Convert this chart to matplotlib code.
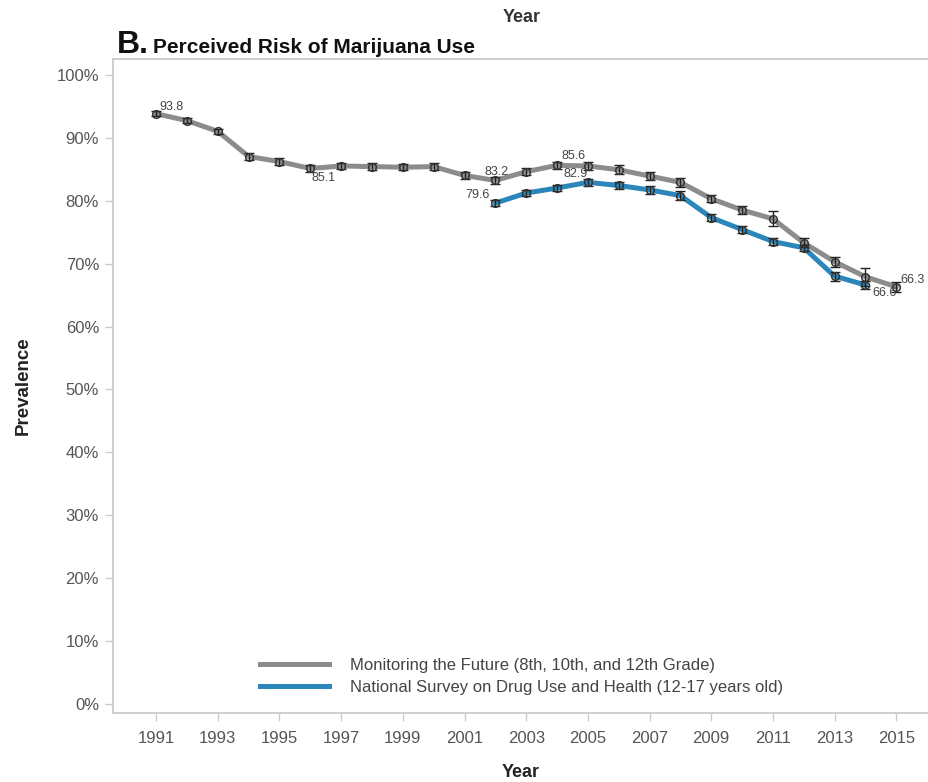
import matplotlib
matplotlib.use("Agg")
import matplotlib.pyplot as plt
import numpy as np

plt.rcParams['font.family'] = ['Liberation Sans', 'DejaVu Sans']

# Monitoring the Future, 8th/10th/12th grade combined
mtf_years = list(range(1991, 2016))
mtf_vals = [93.8, 92.7, 91.0, 87.0, 86.2, 85.1, 85.5, 85.4, 85.3, 85.4, 84.0, 83.2,
            84.6, 85.6, 85.5, 84.9, 83.9, 82.9, 80.3, 78.5, 77.1, 73.3, 70.3, 67.9, 66.3]
mtf_err = [0.4, 0.4, 0.4, 0.5, 0.5, 0.5, 0.5, 0.5, 0.5, 0.5, 0.5, 0.6,
           0.5, 0.6, 0.6, 0.7, 0.7, 0.7, 0.6, 0.7, 1.2, 0.7, 0.8, 1.4, 0.8]

# National Survey on Drug Use and Health, ages 12-17
nsduh_years = list(range(2002, 2015))
nsduh_vals = [79.6, 81.2, 82.0, 82.9, 82.4, 81.7, 80.8, 77.3, 75.4, 73.5, 72.5, 68.0, 66.6]
nsduh_err = [0.5, 0.5, 0.5, 0.6, 0.6, 0.6, 0.7, 0.6, 0.6, 0.5, 0.5, 0.7, 0.7]

x_ticks = list(range(1991, 2016, 2))
y_ticks = list(range(0, 101, 10))

legend_labels = ["Monitoring the Future (8th, 10th, and 12th Grade)",
                 "National Survey on Drug Use and Health (12-17 years old)"]

# point labels: (series, year, text, offset in points, ha)
point_labels = [
    ("mtf", 1991, "93.8", (2, 5), "left"),
    ("mtf", 1996, "85.1", (1, -7), "left"),
    ("mtf", 2002, "83.2", (1, 6), "center"),
    ("mtf", 2004, "85.6", (3, 7), "left"),
    ("mtf", 2015, "66.3", (3, 5), "left"),
    ("nsduh", 2002, "79.6", (-4, 6), "right"),
    ("nsduh", 2005, "82.9", (0, 6), "right"),
    ("nsduh", 2014, "66.6", (5, -6), "left"),
]

gray = "#8c8c8c"
blue = "#2b87ba"
axis_gray = "#c9cdd0"
tick_text = "#555555"

fig = plt.figure(figsize=(9.29, 7.82), dpi=100)
ax = fig.add_axes([0.1216, 0.0882, 0.878, 0.8364])

ax.plot(mtf_years, mtf_vals, color=gray, lw=3.6, zorder=2, label=legend_labels[0])
ax.plot(nsduh_years, nsduh_vals, color=blue, lw=3.6, zorder=2, label=legend_labels[1])

for yrs, vals, err in [(mtf_years, mtf_vals, mtf_err), (nsduh_years, nsduh_vals, nsduh_err)]:
    ax.errorbar(yrs, vals, yerr=err, fmt='none', ecolor='#222222', elinewidth=1.0,
                capsize=3.5, capthick=1.0, zorder=3)
    ax.plot(yrs, vals, 'o', ms=5.5, mfc='none', mec='#333333', mew=1.1, zorder=4)

series = {"mtf": (mtf_years, mtf_vals), "nsduh": (nsduh_years, nsduh_vals)}
for key, yr, txt, off, ha in point_labels:
    yrs, vals = series[key]
    ax.annotate(txt, (yr, vals[yrs.index(yr)]), xytext=off, textcoords='offset points',
                ha=ha, va='center', fontsize=9, color='#444444', zorder=5)

ax.set_xlim(1989.6, 2016.05)
ax.set_ylim(-1.4, 102.5)
ax.set_xticks(x_ticks)
ax.set_yticks(y_ticks)
ax.set_yticklabels([f"{v}%" for v in y_ticks])
ax.tick_params(axis='both', colors=axis_gray, labelcolor=tick_text, labelsize=12,
               length=6, width=1, direction='out')
ax.tick_params(axis='x', pad=7)
ax.tick_params(axis='y', pad=4)

for side in ['left', 'bottom', 'top']:
    ax.spines[side].set_color(axis_gray)
    ax.spines[side].set_linewidth(1.3)
ax.spines['right'].set_visible(False)

ax.set_xlabel("Year", fontsize=13, fontweight='bold', color='#222222', labelpad=13)
ax.set_ylabel("Prevalence", fontsize=13.5, fontweight='bold', color='#222222')
ax.yaxis.set_label_coords(-0.100, 0.5)

leg = ax.legend(loc='center left', bbox_to_anchor=(0.1695, 0.056), frameon=False,
                borderpad=0, fontsize=12, handlelength=4.15, handletextpad=1.29,
                labelspacing=0.4)
for t in leg.get_texts():
    t.set_color('#444444')

# axis title carried over from the panel above
fig.text(0.5615, 0.9776, "Year", ha='center', va='center', fontsize=13,
         fontweight='bold', color='#333333')
fig.text(0.126, 0.9322, "B.", ha='left', va='baseline', fontsize=23, fontweight='bold',
         color='#111111')
fig.text(0.1647, 0.9322, "Perceived Risk of Marijuana Use", ha='left', va='baseline',
         fontsize=15, fontweight='bold', color='#111111')

fig.savefig("out.png", dpi=100)
